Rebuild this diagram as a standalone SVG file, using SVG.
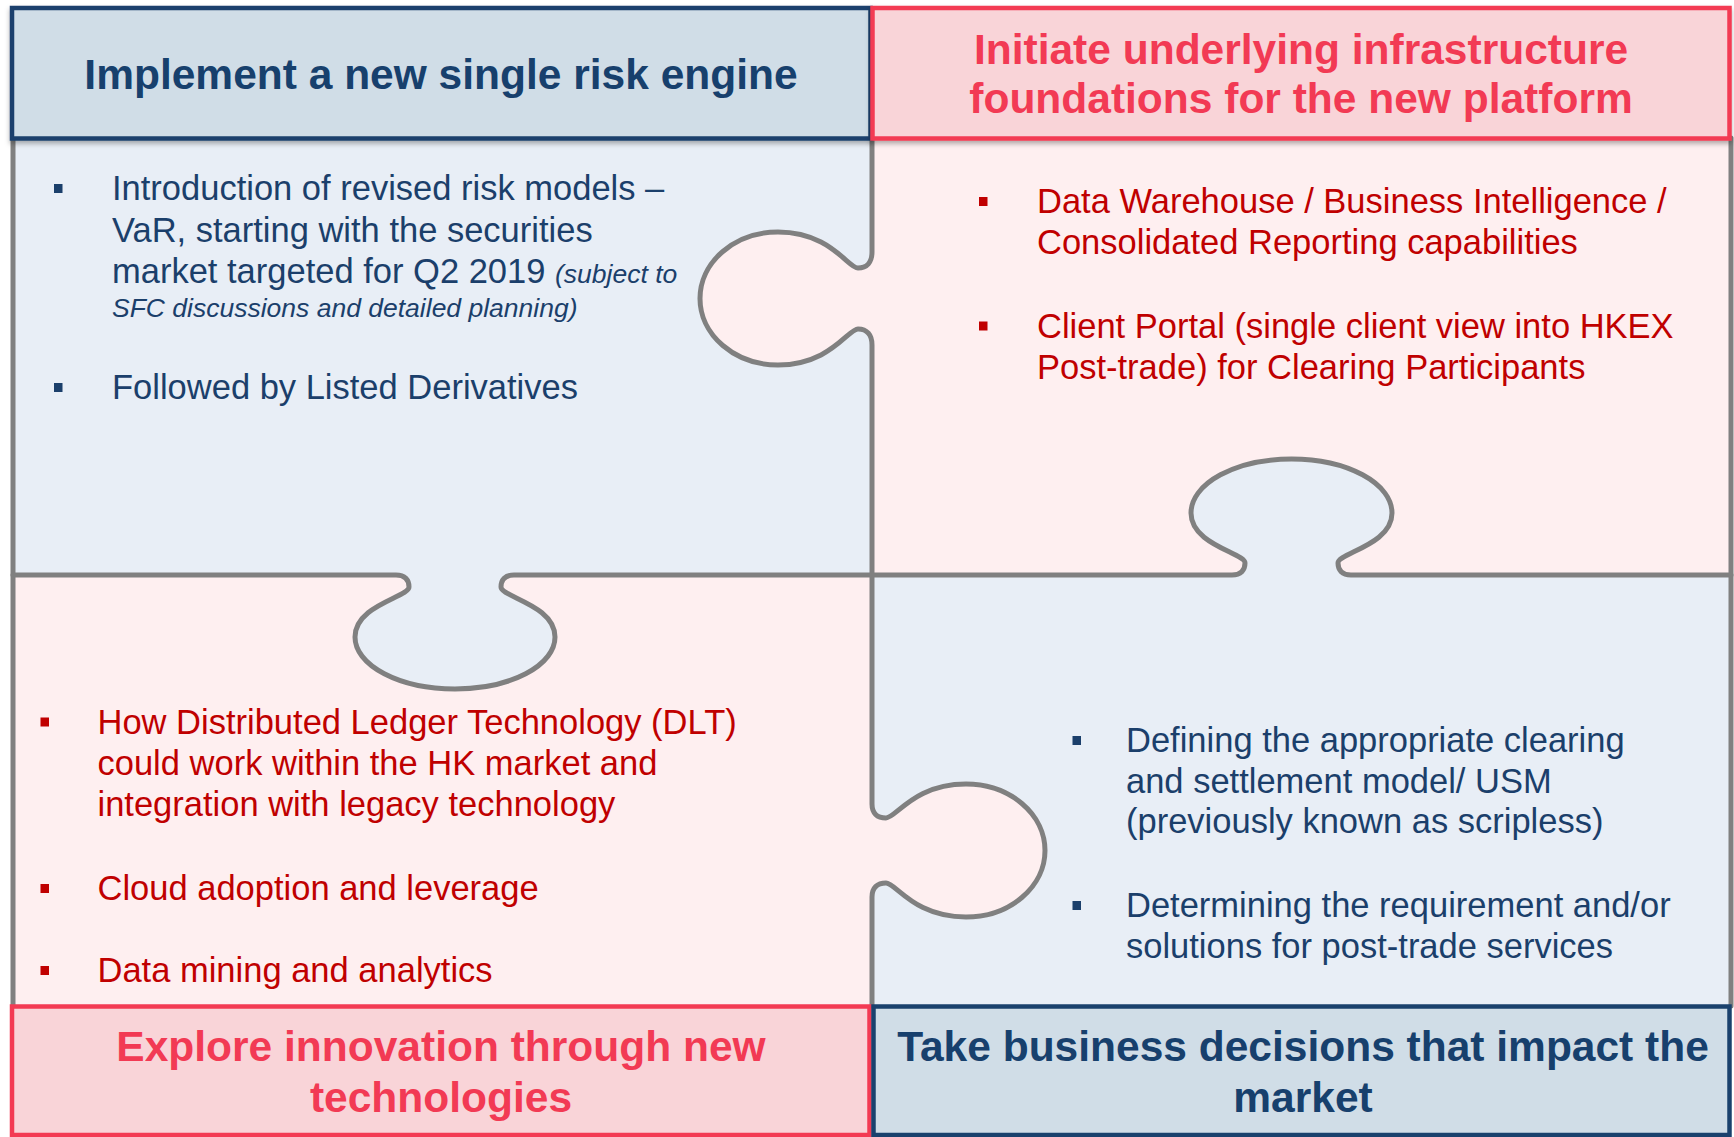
<svg xmlns="http://www.w3.org/2000/svg" width="1734" height="1137" viewBox="0 0 1734 1137">
<defs>
<style>
.blueBody{fill:#E8EEF6}
.pinkBody{fill:#FEEFF0}
.edge{fill:none;stroke:#808080;stroke-width:5;stroke-linejoin:round;stroke-linecap:round}
.hBlue{fill:#D0DDE7;stroke:#1A416D;stroke-width:4.5}
.hPink{fill:#F9D4D8;stroke:#F33A53;stroke-width:4.5}
.ht{font-family:"Liberation Sans",Arial,sans-serif;font-weight:bold;font-size:42.5px;text-anchor:middle}
.htBlue{fill:#17406D}
.htPink{fill:#F23A54}
.bt{font-family:"Liberation Sans",Arial,sans-serif;font-size:34.5px}
.btBlue{fill:#1B3F6B}
.btRed{fill:#C00000}
.it{font-style:italic;font-size:26.5px}
.bulBlue{fill:#1B3F6B}
.bulRed{fill:#C00000}
</style>
<filter id="sh" x="-5%" y="-10%" width="110%" height="130%">
<feDropShadow dx="0" dy="3" stdDeviation="2.5" flood-color="#000" flood-opacity="0.3"/>
</filter>
</defs>

<g id="pieces">
<rect class="blueBody" x="11" y="138" width="861" height="437"/>
<rect class="pinkBody" x="872" y="138" width="860" height="437"/>
<rect class="pinkBody" x="11" y="575" width="861" height="431"/>
<rect class="blueBody" x="872" y="575" width="860" height="431"/>
<path id="knobA" class="pinkBody" d="M872 252 C872 262 867 268 858 268 C848 268 830 232 778 232 A78 66.5 0 0 0 778 365 C830 365 848 329 858 329 C867 329 872 335 872 345 Z"/>
<path id="knobD" class="pinkBody" d="M872 804 C872 813 877 818 886 818 C896 818 914 784 966 784 A79 66.5 0 0 1 966 917 C914 917 896 883 886 883 C877 883 872 888 872 897 Z"/>
<path id="knobB" class="blueBody" d="M396 575 C405 575 409 580 409 587 C409 597 355 605 355 637 A100 52 0 0 0 555 637 C555 605 501 597 501 587 C501 580 505 575 514 575 Z"/>
<path id="knobC" class="blueBody" d="M1232 575 C1241 575 1245 570 1245 563 C1245 553 1191 545 1191 513 A100.5 54 0 0 1 1392 513 C1392 545 1338 553 1338 563 C1338 570 1342 575 1351 575 Z"/>
</g>

<g id="connectors">
<path class="edge" d="M872 138 L872 252 C872 262 867 268 858 268 C848 268 830 232 778 232 A78 66.5 0 0 0 778 365 C830 365 848 329 858 329 C867 329 872 335 872 345 L872 804 C872 813 877 818 886 818 C896 818 914 784 966 784 A79 66.5 0 0 1 966 917 C914 917 896 883 886 883 C877 883 872 888 872 897 L872 1006"/>
<path class="edge" d="M13 575 L396 575 C405 575 409 580 409 587 C409 597 355 605 355 637 A100 52 0 0 0 555 637 C555 605 501 597 501 587 C501 580 505 575 514 575 L1232 575 C1241 575 1245 570 1245 563 C1245 553 1191 545 1191 513 A100.5 54 0 0 1 1392 513 C1392 545 1338 553 1338 563 C1338 570 1342 575 1351 575 L1731 575"/>
<path class="edge" d="M13 138 L13 1006"/>
<path class="edge" d="M1731 138 L1731 1006"/>
</g>

<g id="node-risk-engine">
<rect class="hBlue" x="12" y="8" width="858.5" height="130.5" filter="url(#sh)"/>
<text class="ht htBlue" x="441" y="89">Implement a new single risk engine</text>
<rect class="bulBlue" x="54" y="184" width="8.5" height="9"/>
<text class="bt btBlue" x="112" y="200">Introduction of revised risk models –</text>
<text class="bt btBlue" x="112" y="242">VaR, starting with the securities</text>
<text class="bt btBlue" x="112" y="283">market targeted for Q2 2019 <tspan class="it">(subject to</tspan></text>
<text class="bt btBlue it" x="112" y="317">SFC discussions and detailed planning)</text>
<rect class="bulBlue" x="54" y="383" width="8.5" height="9"/>
<text class="bt btBlue" x="112" y="399">Followed by Listed Derivatives</text>
</g>

<g id="node-infrastructure">
<rect class="hPink" x="872.5" y="8" width="857" height="130.5" filter="url(#sh)"/>
<text class="ht htPink" x="1301" y="64">Initiate underlying infrastructure</text>
<text class="ht htPink" x="1301" y="113">foundations for the new platform</text>
<rect class="bulRed" x="979" y="197" width="8.5" height="9"/>
<text class="bt btRed" x="1037" y="213">Data Warehouse / Business Intelligence /</text>
<text class="bt btRed" x="1037" y="253.5">Consolidated Reporting capabilities</text>
<rect class="bulRed" x="979" y="321.5" width="8.5" height="9"/>
<text class="bt btRed" x="1037" y="337.5">Client Portal (single client view into HKEX</text>
<text class="bt btRed" x="1037" y="379">Post-trade) for Clearing Participants</text>
</g>

<g id="node-innovation">
<rect class="bulRed" x="40.5" y="717.5" width="8.5" height="9"/>
<text class="bt btRed" x="97.5" y="733.5">How Distributed Ledger Technology (DLT)</text>
<text class="bt btRed" x="97.5" y="774.6">could work within the HK market and</text>
<text class="bt btRed" x="97.5" y="815.8">integration with legacy technology</text>
<rect class="bulRed" x="40.5" y="884" width="8.5" height="9"/>
<text class="bt btRed" x="97.5" y="900">Cloud adoption and leverage</text>
<rect class="bulRed" x="40.5" y="966" width="8.5" height="9"/>
<text class="bt btRed" x="97.5" y="982">Data mining and analytics</text>
<rect class="hPink" x="12" y="1006.5" width="857.5" height="128.5"/>
<text class="ht htPink" x="441" y="1061">Explore innovation through new</text>
<text class="ht htPink" x="441" y="1111.5">technologies</text>
</g>

<g id="node-business-decisions">
<rect class="bulBlue" x="1072.5" y="736" width="8.5" height="9"/>
<text class="bt btBlue" x="1126" y="752">Defining the appropriate clearing</text>
<text class="bt btBlue" x="1126" y="792.6">and settlement model/ USM</text>
<text class="bt btBlue" x="1126" y="832.7">(previously known as scripless)</text>
<rect class="bulBlue" x="1072.5" y="901" width="8.5" height="9"/>
<text class="bt btBlue" x="1126" y="917">Determining the requirement and/or</text>
<text class="bt btBlue" x="1126" y="958">solutions for post-trade services</text>
<rect class="hBlue" x="873.5" y="1006.5" width="856" height="128.5"/>
<text class="ht htBlue" x="1303" y="1061">Take business decisions that impact the</text>
<text class="ht htBlue" x="1303" y="1111.5">market</text>
</g>
</svg>
